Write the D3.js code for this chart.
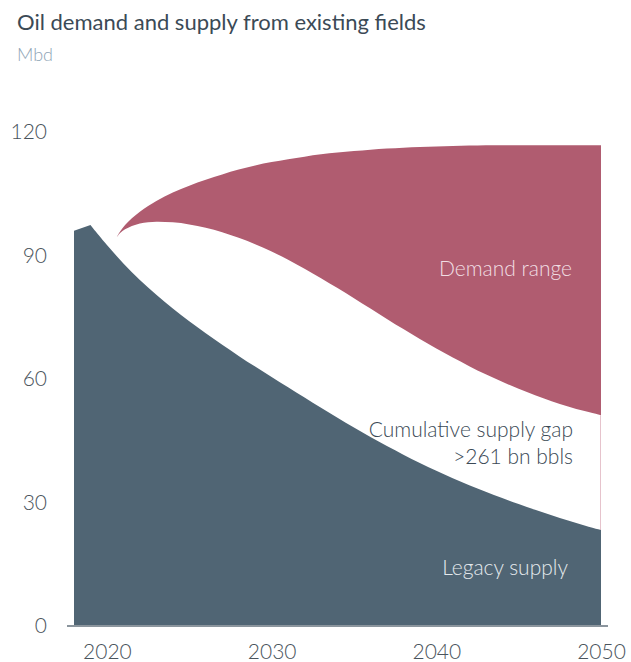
<!DOCTYPE html>
<html>
<head>
<meta charset="utf-8">
<script src="https://cdn.jsdelivr.net/npm/d3@7"></script>
<style>
  body { margin: 0; background: #fff; }
  svg { font-family: "Lato", "Open Sans", sans-serif; }
</style>
</head>
<body>
<svg class="viz" width="631" height="662"></svg>
<script>
// Legacy supply (Mbd) by year
var legacyYears = [2018, 2019, 2020, 2021, 2022, 2023, 2024, 2025, 2026, 2027, 2028, 2029, 2030,
                   2031, 2032, 2033, 2034, 2035, 2036, 2037, 2038, 2039, 2040,
                   2041, 2042, 2043, 2044, 2045, 2046, 2047, 2048, 2049, 2050];
var legacySupply = [96.0, 97.4, 92.5, 88.0, 84.0, 80.4, 77.1, 74.0, 71.1, 68.3, 65.6, 63.0, 60.5,
                    58.0, 55.5, 53.0, 50.6, 48.2, 45.9, 43.7, 41.6, 39.6, 37.7,
                    35.9, 34.2, 32.6, 31.1, 29.6, 28.2, 26.9, 25.6, 24.4, 23.3];

// Demand range: low and high edge
var demandYears = [2020.6, 2021, 2022, 2023, 2024, 2025, 2026, 2027, 2028, 2029, 2030,
                   2031, 2032, 2033, 2034, 2035, 2036, 2037, 2038, 2039, 2040,
                   2041, 2042, 2043, 2044, 2045, 2046, 2047, 2048, 2049, 2050];
var demandLow = [94.5, 96.4, 98.0, 98.3, 98.1, 97.6, 96.8, 95.7, 94.3, 92.8, 91.0,
                 89.0, 86.8, 84.5, 82.1, 79.6, 77.1, 74.6, 72.1, 69.7, 67.4,
                 65.2, 63.1, 61.1, 59.3, 57.6, 56.0, 54.6, 53.3, 52.2, 51.2];
var demandHigh = [94.5, 97.3, 100.8, 103.3, 105.4, 107.0, 108.4, 109.7, 110.9, 111.9, 112.7,
                  113.4, 114.0, 114.6, 115.0, 115.4, 115.7, 116.0, 116.2, 116.4, 116.5,
                  116.6, 116.7, 116.8, 116.8, 116.8, 116.8, 116.8, 116.8, 116.8, 116.8];

var yTicks = [0, 30, 60, 90, 120];
var xTicks = [2020, 2030, 2040, 2050];

var legacy = legacyYears.map(function(d, i) { return {year: d, value: legacySupply[i]}; });
var demand = demandYears.map(function(d, i) { return {year: d, low: demandLow[i], high: demandHigh[i]}; });

var svg = d3.select(".viz");

var x = d3.scaleLinear().domain([2018, 2050]).range([74, 601]);
var y = d3.scaleLinear().domain([0, 120]).range([626, 132]);

// title
svg.append("text")
    .attr("x", 17).attr("y", 30)
    .attr("font-size", "22px")
    .attr("fill", "#3b4a56")
    .text("Oil demand and supply from existing fields");

svg.append("text")
    .attr("x", 17).attr("y", 61)
    .attr("font-size", "18px")
    .attr("font-weight", 300)
    .attr("fill", "#8fa5b6")
    .text("Mbd");

// demand range band
var band = d3.area()
    .x(function(d) { return x(d.year); })
    .y0(function(d) { return y(d.low); })
    .y1(function(d) { return y(d.high); })
    .curve(d3.curveBasis);

svg.append("path")
    .datum(demand)
    .attr("d", band)
    .attr("fill", "#b05c70");

// thin edge at 2050 between the two areas
svg.append("line")
    .attr("x1", x(2050) - 0.5).attr("x2", x(2050) - 0.5)
    .attr("y1", y(demandLow[demandLow.length - 1]))
    .attr("y2", y(legacySupply[legacySupply.length - 1]))
    .attr("stroke", "#e6c3cc")
    .attr("stroke-width", 1);

// legacy supply: straight rise to the 2019 peak, smooth decline after (one path)
var topEdge = d3.line()
    .x(function(d) { return x(d.year); })
    .y(function(d) { return y(d.value); })
    .curve(d3.curveBasis);

var first = legacy[0], last = legacy[legacy.length - 1];
var decline = topEdge(legacy.slice(1)).replace(/^M/, "L");
var legacyPath = "M" + x(first.year) + "," + y(0) +
    "L" + x(first.year) + "," + y(first.value) +
    decline +
    "L" + x(last.year) + "," + y(0) + "Z";

svg.append("path")
    .attr("d", legacyPath)
    .attr("fill", "#506574");

// axes
var yAxis = svg.append("g")
    .attr("transform", "translate(" + x(2018) + ",0)")
    .call(d3.axisLeft(y).tickValues(yTicks).tickSize(0).tickPadding(27));

var xAxis = svg.append("g")
    .attr("transform", "translate(0," + y(0) + ")")
    .call(d3.axisBottom(x).tickValues(xTicks).tickFormat(d3.format("d")).tickSize(0).tickPadding(18));

[yAxis, xAxis].forEach(function(g) {
  g.select(".domain").remove();
  g.selectAll("text")
      .attr("font-family", "Lato, 'Open Sans', sans-serif")
      .attr("font-size", "21px")
      .attr("font-weight", 300)
      .attr("fill", "#4a545c");
});

svg.append("line")
    .attr("x1", x(2018) - 7).attr("x2", x(2050) + 7)
    .attr("y1", y(0)).attr("y2", y(0))
    .attr("stroke", "#8b959d")
    .attr("stroke-width", 2);

// annotations
var notes = svg.append("g")
    .attr("text-anchor", "end")
    .attr("font-size", "21px")
    .attr("font-weight", 300);

notes.append("text")
    .attr("x", 572).attr("y", 276)
    .attr("fill", "#f1dee3")
    .text("Demand range");

notes.append("text")
    .attr("x", 573).attr("y", 437)
    .attr("fill", "#3b4a56")
    .text("Cumulative supply gap");

notes.append("text")
    .attr("x", 573).attr("y", 464)
    .attr("fill", "#3b4a56")
    .text(">261 bn bbls");

notes.append("text")
    .attr("x", 568).attr("y", 575)
    .attr("fill", "#e4e9ed")
    .text("Legacy supply");
</script>
</body>
</html>
